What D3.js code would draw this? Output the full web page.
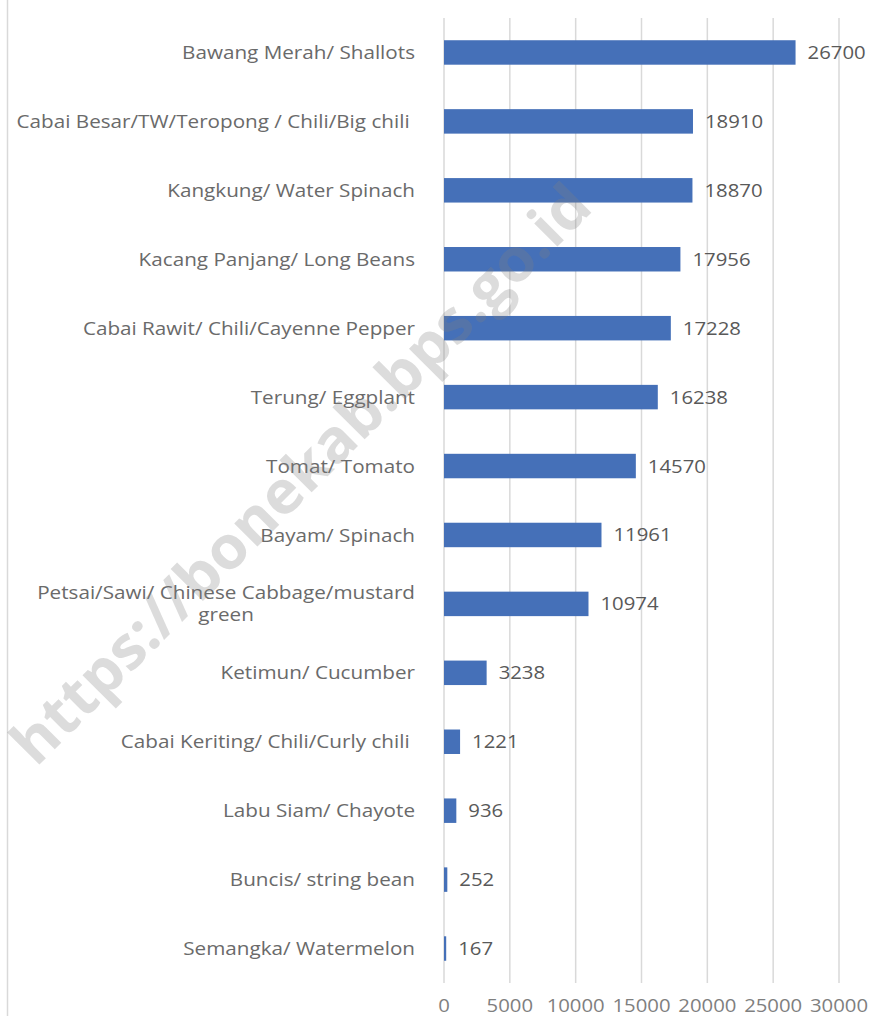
<!DOCTYPE html>
<html>
<head>
<meta charset="utf-8">
<script src="https://cdn.jsdelivr.net/npm/d3@7"></script>
<style>
  body { margin: 0; background: #fff; }
  svg { display: block; }
  text { font-family: "Open Sans", sans-serif; }
</style>
</head>
<body>
<svg id="chart" width="889" height="1016"></svg>
<script>
// data
var categories = [
    "Bawang Merah/ Shallots",
    "Cabai Besar/TW/Teropong / Chili/Big chili ",
    "Kangkung/ Water Spinach",
    "Kacang Panjang/ Long Beans",
    "Cabai Rawit/ Chili/Cayenne Pepper",
    "Terung/ Eggplant",
    "Tomat/ Tomato",
    "Bayam/ Spinach",
    "Petsai/Sawi/ Chinese Cabbage/mustard green",
    "Ketimun/ Cucumber",
    "Cabai Keriting/ Chili/Curly chili ",
    "Labu Siam/ Chayote",
    "Buncis/ string bean",
    "Semangka/ Watermelon"
];
var values = [26700, 18910, 18870, 17956, 17228, 16238, 14570, 11961, 10974, 3238, 1221, 936, 252, 167];
var ticks = [0, 5000, 10000, 15000, 20000, 25000, 30000];
var watermark = "https://bonekab.bps.go.id";

var svg = d3.select("#chart");

// the source image text is a bit stretched sideways
var stretch = 1.13;

var x = d3.scaleLinear()
    .domain([0, 30000])
    .range([444, 839]);

var y = d3.scaleBand()
    .domain(categories)
    .range([18, 983])
    .paddingInner(0.645)
    .paddingOuter(0.3225);

// left frame line
svg.append("line")
    .attr("x1", 7.5).attr("x2", 7.5)
    .attr("y1", 0).attr("y2", 1016)
    .attr("stroke", "#d9d9d9")
    .attr("stroke-width", 1.5);

// gridlines
svg.append("g")
    .selectAll("line")
    .data(ticks)
    .enter().append("line")
    .attr("x1", function(d) { return x(d); })
    .attr("x2", function(d) { return x(d); })
    .attr("y1", 18)
    .attr("y2", 983)
    .attr("stroke", "#d9d9d9")
    .attr("stroke-width", 1.5);

// tick labels
svg.append("g")
    .selectAll("text")
    .data(ticks)
    .enter().append("text")
    .attr("transform", function(d) { return "translate(" + x(d) + ",1012) scale(" + stretch + ",1)"; })
    .attr("text-anchor", "middle")
    .attr("fill", "#7f7f7f")
    .style("font-size", "18px")
    .text(function(d) { return d; });

// bars
svg.append("g")
    .selectAll("rect")
    .data(values)
    .enter().append("rect")
    .attr("x", x(0))
    .attr("y", function(d, i) { return y(categories[i]); })
    .attr("width", function(d) { return x(d) - x(0); })
    .attr("height", y.bandwidth())
    .attr("fill", "#4570b8");

// value labels
svg.append("g")
    .selectAll("text")
    .data(values)
    .enter().append("text")
    .attr("transform", function(d, i) {
        return "translate(" + (x(d) + 12) + "," + (y(categories[i]) + y.bandwidth() / 2) + ") scale(" + stretch + ",1)";
    })
    .attr("dy", "0.36em")
    .attr("fill", "#595959")
    .style("font-size", "18px")
    .text(function(d) { return d; });

// category labels
var labelG = svg.append("g");
function addLabel(txt, lx, ly, anchor) {
    return labelG.append("text")
        .attr("transform", "translate(" + lx + "," + ly + ") scale(" + stretch + ",1)")
        .attr("dy", "0.36em")
        .attr("text-anchor", anchor)
        .attr("fill", "#6a6a6a")
        .style("font-size", "18.3px")
        .style("white-space", "pre")
        .text(txt);
}
categories.forEach(function(c, i) {
    var cy = y(c) + y.bandwidth() / 2;
    if (c.indexOf("mustard green") > -1) {
        var first = addLabel("Petsai/Sawi/ Chinese Cabbage/mustard", 415, cy - 11, "end");
        var w = first.node().getComputedTextLength() * stretch;
        addLabel("green", 415 - w / 2, cy + 11, "middle");
    } else {
        addLabel(c, 415, cy, "end");
    }
});

// watermark on top
svg.append("text")
    .attr("transform", "translate(36,768) rotate(-45)")
    .attr("fill", "#808080")
    .attr("fill-opacity", 0.28)
    .style("font-size", "60px")
    .style("font-weight", "bold")
    .attr("textLength", 790)
    .attr("lengthAdjust", "spacingAndGlyphs")
    .text(watermark);
</script>
</body>
</html>
